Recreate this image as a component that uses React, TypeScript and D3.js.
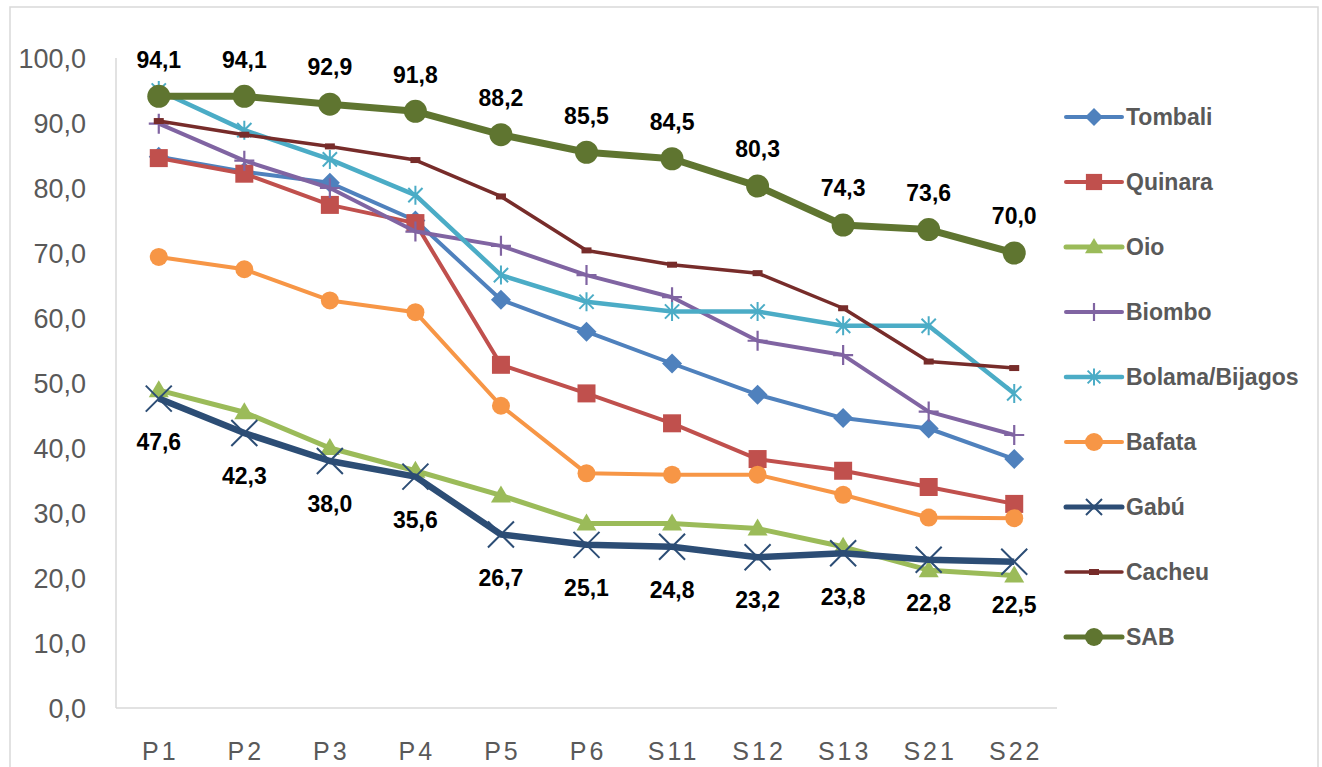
import React from "react";
import * as d3 from "d3";

const categories = ["P1", "P2", "P3", "P4", "P5", "P6", "S11", "S12", "S13", "S21", "S22"];

const tombali = [84.8, 82.5, 80.8, 75.0, 62.8, 57.9, 53.0, 48.2, 44.6, 43.0, 38.3];
const quinara = [84.6, 82.2, 77.4, 74.6, 52.8, 48.4, 43.8, 38.3, 36.5, 34.0, 31.4];
const oio = [48.9, 45.5, 40.0, 36.5, 32.7, 28.4, 28.4, 27.6, 24.8, 21.2, 20.4];
const biombo = [89.9, 84.2, 80.0, 73.3, 71.1, 66.6, 63.2, 56.5, 54.3, 45.6, 42.0];
const bolama = [95.0, 88.9, 84.4, 78.9, 66.6, 62.5, 61.0, 61.0, 58.8, 58.8, 48.4];
const bafata = [69.4, 67.5, 62.7, 60.9, 46.5, 36.1, 35.9, 35.9, 32.8, 29.3, 29.2];
const gabu = [47.6, 42.3, 38.0, 35.6, 26.7, 25.1, 24.8, 23.2, 23.8, 22.8, 22.5];
const cacheu = [90.3, 88.2, 86.4, 84.3, 78.7, 70.4, 68.2, 66.9, 61.5, 53.3, 52.3];
const sab = [94.1, 94.1, 92.9, 91.8, 88.2, 85.5, 84.5, 80.3, 74.3, 73.6, 70.0];

const yTicks = [0, 10, 20, 30, 40, 50, 60, 70, 80, 90, 100];

type Marker = "diamond" | "square" | "triangle" | "plus" | "asterisk" | "circle" | "x" | "dash";

const series: { name: string; values: number[]; color: string; width: number; marker: Marker; ms: number; label?: "above" | "below" }[] = [
  { name: "Tombali", values: tombali, color: "#4F81BD", width: 4, marker: "diamond", ms: 10 },
  { name: "Quinara", values: quinara, color: "#C0504D", width: 4, marker: "square", ms: 9 },
  { name: "Oio", values: oio, color: "#9BBB59", width: 5, marker: "triangle", ms: 10 },
  { name: "Biombo", values: biombo, color: "#8064A2", width: 4, marker: "plus", ms: 10 },
  { name: "Bolama/Bijagos", values: bolama, color: "#4BACC6", width: 4.5, marker: "asterisk", ms: 9.5 },
  { name: "Bafata", values: bafata, color: "#F79646", width: 4, marker: "circle", ms: 9 },
  { name: "Gabú", values: gabu, color: "#2C4D75", width: 6.5, marker: "x", ms: 13, label: "below" },
  { name: "Cacheu", values: cacheu, color: "#772C2A", width: 3.5, marker: "dash", ms: 5 },
  { name: "SAB", values: sab, color: "#5F7530", width: 7, marker: "circle", ms: 11.5, label: "above" },
];

function markerEl(m: Marker, x: number, y: number, s: number, color: string, key?: string) {
  switch (m) {
    case "diamond":
      return <path key={key} d={`M${x},${y - s}L${x + s},${y}L${x},${y + s}L${x - s},${y}Z`} fill={color} />;
    case "square":
      return <rect key={key} x={x - s} y={y - s} width={2 * s} height={2 * s} fill={color} />;
    case "triangle":
      return <path key={key} d={`M${x},${y - s}L${x + s},${y + s * 0.7}L${x - s},${y + s * 0.7}Z`} fill={color} />;
    case "plus":
      return (
        <path key={key} d={`M${x - s},${y}L${x + s},${y}M${x},${y - s}L${x},${y + s}`} stroke={color} strokeWidth={2.2} />
      );
    case "asterisk": {
      const d = s * 0.75;
      return (
        <path
          key={key}
          d={`M${x},${y - s}L${x},${y + s}M${x - d},${y - d}L${x + d},${y + d}M${x - d},${y + d}L${x + d},${y - d}`}
          stroke={color}
          strokeWidth={2}
        />
      );
    }
    case "circle":
      return <circle key={key} cx={x} cy={y} r={s} fill={color} />;
    case "x":
      return (
        <path key={key} d={`M${x - s},${y - s}L${x + s},${y + s}M${x - s},${y + s}L${x + s},${y - s}`} stroke={color} strokeWidth={2} />
      );
    case "dash":
      return <rect key={key} x={x - s} y={y - 3} width={2 * s} height={6} fill={color} />;
  }
}

export default function App() {
  const W = 1322;
  const H = 767;
  const left = 116;
  const right = 1057;
  const top = 58;
  const bottom = 708;

  const x = d3.scaleBand<string>().domain(categories).range([left, right]);
  const y = d3.scaleLinear().domain([0, 100]).range([bottom, top]);
  const cx = (c: string) => (x(c) as number) + x.bandwidth() / 2;
  const line = d3
    .line<number>()
    .x((_, i) => cx(categories[i]))
    .y((v) => y(v));

  const legendX = 1066;
  const legendY0 = 117;
  const legendStep = 65;

  return (
    <svg width={W} height={H} style={{ position: "absolute", left: 0, top: 0, background: "#fff" }}>
      <rect x={0} y={0} width={W} height={H} fill="#fff" />
      <rect x={10} y={7} width={1308} height={800} fill="none" stroke="#d9d9d9" strokeWidth={1.5} />
      {/* axes */}
      <line x1={left} x2={left} y1={top} y2={bottom} stroke="#d9d9d9" strokeWidth={1.5} />
      <line x1={left} x2={right} y1={bottom} y2={bottom} stroke="#d9d9d9" strokeWidth={1.5} />
      {yTicks.map((t) => (
        <text
          key={t}
          x={86}
          y={y(t)}
          dy="0.36em"
          textAnchor="end"
          fontFamily="Liberation Sans, Arial, sans-serif"
          fontSize={27}
          fill="#595959"
        >
          {t.toFixed(1).replace(".", ",")}
        </text>
      ))}
      {categories.map((c) => (
        <text
          key={c}
          x={cx(c) + 1.5}
          y={760}
          textAnchor="middle"
          fontFamily="Liberation Sans, Arial, sans-serif"
          fontSize={25}
          letterSpacing={3}
          fill="#595959"
        >
          {c}
        </text>
      ))}
      {/* series */}
      {series.map((s) => (
        <g key={s.name}>
          <path d={line(s.values) || ""} fill="none" stroke={s.color} strokeWidth={s.width} strokeLinejoin="round" />
          {s.values.map((v, i) => markerEl(s.marker, cx(categories[i]), y(v), s.ms, s.color, s.name + i))}
        </g>
      ))}
      {/* data labels */}
      {series
        .filter((s) => s.label)
        .map((s) =>
          s.values.map((v, i) => (
            <text
              key={s.name + "l" + i}
              x={cx(categories[i])}
              y={y(v) + (s.label === "above" ? -37 : 43)}
              dy="0.36em"
              textAnchor="middle"
              fontFamily="Liberation Sans, Arial, sans-serif"
              fontWeight="bold"
              fontSize={23}
              fill="#000"
            >
              {v.toFixed(1).replace(".", ",")}
            </text>
          ))
        )}
      {/* legend */}
      {series.map((s, i) => {
        const ly = legendY0 + i * legendStep;
        return (
          <g key={"lg" + s.name}>
            <line x1={legendX} x2={legendX + 56} y1={ly} y2={ly} stroke={s.color} strokeWidth={Math.min(s.width, 5)} strokeLinecap="round" />
            {markerEl(s.marker, legendX + 28, ly, s.marker === "circle" ? 9 : s.marker === "dash" ? 5 : s.marker === "x" ? 8 : s.ms * 0.9, s.color)}
            <text
              x={legendX + 60}
              y={ly}
              dy="0.36em"
              fontFamily="Liberation Sans, Arial, sans-serif"
              fontWeight="bold"
              fontSize={23}
              fill="#595959"
            >
              {s.name}
            </text>
          </g>
        );
      })}
    </svg>
  );
}
